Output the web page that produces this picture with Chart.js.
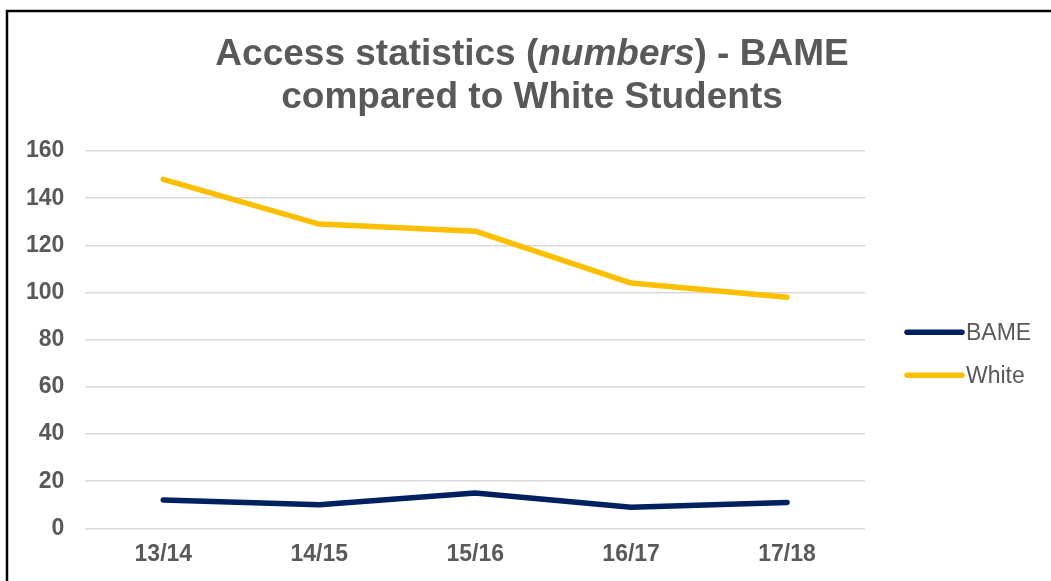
<!DOCTYPE html>
<html>
<head>
<meta charset="utf-8">
<title>Access statistics - BAME compared to White Students</title>
<script src="https://cdn.jsdelivr.net/npm/chart.js@4.4.0/dist/chart.umd.min.js"></script>
<style>
  html, body { margin: 0; padding: 0; background: #ffffff; }
  #wrap { width: 1051px; height: 581px; position: relative; }
</style>
</head>
<body>
<div id="wrap"><canvas id="accessChart"></canvas></div>
<script>
// --- Data ---
const years = ['13/14', '14/15', '15/16', '16/17', '17/18'];
const bameCounts = [12, 10, 15, 9, 11];
const whiteCounts = [148, 129, 126, 104, 98];
const seriesNames = ['BAME', 'White'];
const yRange = [0, 160];
const yStep = 20;

// --- Colours ---
const textGrey = '#595959';
const gridGrey = '#d9d9d9';
const navy = '#002060';
const gold = '#fbbf00';
const fontFamily = '"Liberation Sans", Arial, Helvetica, sans-serif';

// Outer frame: only the top and left edges show
const framePlugin = {
    id: 'frame',
    afterDraw(chart) {
        const ctx = chart.ctx;
        ctx.save();
        ctx.strokeStyle = '#000000';
        ctx.lineWidth = 2.5;
        ctx.beginPath();
        ctx.moveTo(7, chart.height);
        ctx.lineTo(7, 11);
        ctx.lineTo(chart.width, 11);
        ctx.stroke();
        ctx.restore();
    }
};

// Two-line title, with the word "numbers" in italics
const titlePlugin = {
    id: 'mixedTitle',
    afterDraw(chart) {
        const ctx = chart.ctx;
        const size = 37;
        const cx = 532;
        const lines = [
            [['Access statistics (', false], ['numbers', true], [') - BAME', false]],
            [['compared to White Students', false]]
        ];
        const baselines = [65, 108];
        ctx.save();
        ctx.fillStyle = textGrey;
        ctx.textBaseline = 'alphabetic';
        ctx.textAlign = 'left';
        lines.forEach((parts, i) => {
            let total = 0;
            parts.forEach(([txt, italic]) => {
                ctx.font = (italic ? 'italic ' : '') + 'bold ' + size + 'px ' + fontFamily;
                total += ctx.measureText(txt).width;
            });
            let x = cx - total / 2;
            parts.forEach(([txt, italic]) => {
                ctx.font = (italic ? 'italic ' : '') + 'bold ' + size + 'px ' + fontFamily;
                ctx.fillText(txt, x, baselines[i]);
                x += ctx.measureText(txt).width;
            });
        });
        ctx.restore();
    }
};

// Legend to the right of the plot: short thick line then the series name
const legendPlugin = {
    id: 'sideLegend',
    afterDraw(chart) {
        const ctx = chart.ctx;
        const area = chart.chartArea;
        const x0 = area.right + 42;
        const lineLen = 55;
        const rowGap = 43;
        const yMid = (area.top + area.bottom) / 2 + 14;
        const sets = chart.data.datasets;
        ctx.save();
        ctx.font = '23px ' + fontFamily;
        ctx.textBaseline = 'middle';
        ctx.textAlign = 'left';
        sets.forEach((ds, i) => {
            const y = yMid + (i - (sets.length - 1) / 2) * rowGap;
            ctx.strokeStyle = ds.borderColor;
            ctx.lineWidth = ds.borderWidth;
            ctx.lineCap = 'round';
            ctx.beginPath();
            ctx.moveTo(x0, y);
            ctx.lineTo(x0 + lineLen, y);
            ctx.stroke();
            ctx.fillStyle = textGrey;
            ctx.fillText(ds.label, x0 + lineLen + 4, y + 1);
        });
        ctx.restore();
    }
};

const ctx = document.getElementById('accessChart');
new Chart(ctx.getContext('2d'), {
    type: 'line',
    data: {
        labels: years,
        datasets: [{
            label: seriesNames[0],
            data: bameCounts,
            borderColor: navy,
            backgroundColor: navy,
            borderWidth: 5.5,
            borderCapStyle: 'round',
            borderJoinStyle: 'round',
            pointRadius: 0,
            tension: 0
        }, {
            label: seriesNames[1],
            data: whiteCounts,
            borderColor: gold,
            backgroundColor: gold,
            borderWidth: 5.5,
            borderCapStyle: 'round',
            borderJoinStyle: 'round',
            pointRadius: 0,
            tension: 0
        }]
    },
    options: {
        responsive: true,
        maintainAspectRatio: false,
        animation: false,
        layout: {
            padding: { top: 151, right: 186, bottom: 1, left: 5 }
        },
        scales: {
            x: {
                offset: true,
                grid: { display: false, drawTicks: false },
                border: { display: false },
                ticks: {
                    color: textGrey,
                    padding: 12,
                    maxRotation: 0,
                    font: { family: fontFamily, size: 23, weight: 'bold' }
                }
            },
            y: {
                min: yRange[0],
                max: yRange[1],
                grid: { color: gridGrey, lineWidth: 1.5, drawTicks: false },
                border: { display: false },
                ticks: {
                    stepSize: yStep,
                    color: textGrey,
                    padding: 21,
                    font: { family: fontFamily, size: 23, weight: 'bold' }
                }
            }
        },
        plugins: {
            legend: { display: false },
            title: { display: false },
            tooltip: { enabled: false }
        }
    },
    plugins: [framePlugin, titlePlugin, legendPlugin]
});
</script>
</body>
</html>
